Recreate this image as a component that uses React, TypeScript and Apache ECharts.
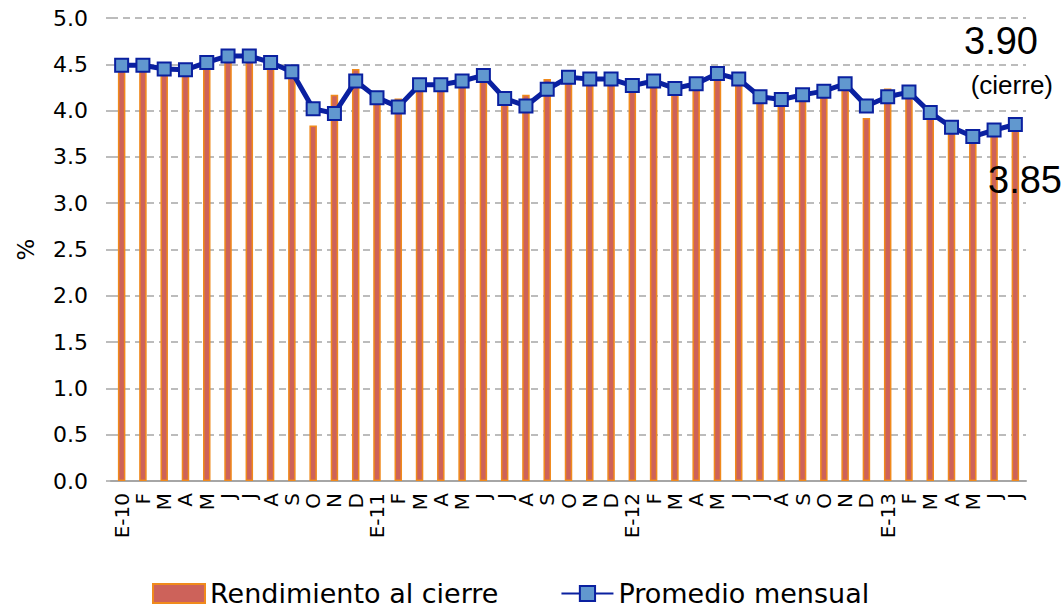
import React, { useEffect, useRef } from "react";
import * as echarts from "echarts";

const months = [
  "E-10", "F", "M", "A", "M", "J", "J", "A", "S", "O", "N", "D",
  "E-11", "F", "M", "A", "M", "J", "J", "A", "S", "O", "N", "D",
  "E-12", "F", "M", "A", "M", "J", "J", "A", "S", "O", "N", "D",
  "E-13", "F", "M", "A", "M", "J", "J",
];

const cierre = [
  4.47, 4.46, 4.40, 4.42, 4.48, 4.56, 4.57, 4.47, 4.36, 3.84, 4.17, 4.45,
  4.10, 4.13, 4.24, 4.25, 4.39, 4.34, 4.10, 4.17, 4.34, 4.32, 4.30, 4.30,
  4.22, 4.28, 4.20, 4.26, 4.36, 4.30, 4.10, 4.08, 4.14, 4.17, 4.26, 3.92,
  4.24, 4.15, 3.92, 3.78, 3.70, 3.74, 3.90,
];

const promedio = [
  4.49, 4.49, 4.45, 4.44, 4.52, 4.59, 4.59, 4.52, 4.42, 4.02, 3.97, 4.32,
  4.14, 4.04, 4.28, 4.28, 4.32, 4.38, 4.13, 4.05, 4.23, 4.36, 4.34, 4.34,
  4.27, 4.32, 4.24, 4.29, 4.40, 4.34, 4.15, 4.12, 4.17, 4.21, 4.29, 4.05,
  4.15, 4.20, 3.98, 3.82, 3.72, 3.79, 3.85,
];

const seriesNames = ["Rendimiento al cierre", "Promedio mensual"];
const lastCierreLabel = "3.90";
const cierreNote = "(cierre)";
const lastPromedioLabel = "3.85";

const FONT = "DejaVu Sans";
const NUM_FONT = "Liberation Sans";

export default function App() {
  const ref = useRef<HTMLDivElement>(null);

  useEffect(() => {
    if (!ref.current) return;
    const chart = echarts.init(ref.current, undefined, { renderer: "svg" });
    chart.setOption({
      animation: false,
      backgroundColor: "#ffffff",
      grid: { left: 111, right: 38, top: 18, bottom: 131, containLabel: false },
      legend: {
        left: 147,
        top: 575,
        itemWidth: 52,
        itemHeight: 19,
        itemGap: 62,
        textStyle: { fontFamily: FONT, fontSize: 27, color: "#000" },
        data: [
          { name: seriesNames[0], icon: "rect" },
          { name: seriesNames[1] },
        ],
      },
      xAxis: {
        type: "category",
        data: months,
        boundaryGap: true,
        axisLine: { show: true, lineStyle: { color: "#A6A6A6", width: 2 } },
        axisTick: { show: false },
        axisLabel: {
          interval: 0,
          rotate: 90,
          margin: 12,
          fontFamily: FONT,
          fontSize: 20,
          color: "#000",
        },
      },
      yAxis: {
        type: "value",
        min: 0,
        max: 5,
        interval: 0.5,
        name: "%",
        nameLocation: "middle",
        nameRotate: 90,
        nameGap: 74,
        nameTextStyle: { fontFamily: FONT, fontSize: 23, color: "#000" },
        axisLine: { show: false },
        axisTick: { show: true, length: 5, lineStyle: { color: "#A6A6A6", width: 1.5 } },
        axisLabel: {
          margin: 23,
          fontFamily: FONT,
          fontSize: 22,
          color: "#000",
          formatter: (v: number) => v.toFixed(1),
        },
        splitLine: {
          show: true,
          lineStyle: { color: "#A6A6A6", width: 1.5, type: [7, 5] },
        },
      },
      series: [
        {
          name: seriesNames[0],
          type: "bar",
          data: cierre,
          barWidth: 7.5,
          itemStyle: { color: "#CD625A", borderColor: "#F08A1C", borderWidth: 1.5 },
          z: 2,
        },
        {
          name: seriesNames[1],
          type: "line",
          data: promedio,
          symbol: "rect",
          symbolSize: 13,
          lineStyle: { color: "#0A20A0", width: 5 },
          itemStyle: { color: "#6198CF", borderColor: "#0A20A0", borderWidth: 2 },
          z: 3,
        },
      ],
      graphic: [
        {
          type: "text",
          right: 1064 - 1038,
          top: 22,
          z: 100,
          style: {
            text: lastCierreLabel,
            font: `38px "${NUM_FONT}"`,
            fill: "#000",
          },
        },
        {
          type: "text",
          right: 1064 - 1053,
          top: 72,
          z: 100,
          style: {
            text: cierreNote,
            font: `26px "${NUM_FONT}"`,
            fill: "#000",
          },
        },
        {
          type: "text",
          right: 1064 - 1062,
          top: 161,
          z: 100,
          style: {
            text: lastPromedioLabel,
            font: `38px "${NUM_FONT}"`,
            fill: "#000",
          },
        },
      ],
    });
    return () => chart.dispose();
  }, []);

  return <div ref={ref} style={{ width: 1064, height: 612, position: "absolute", left: 0, top: 0 }} />;
}
